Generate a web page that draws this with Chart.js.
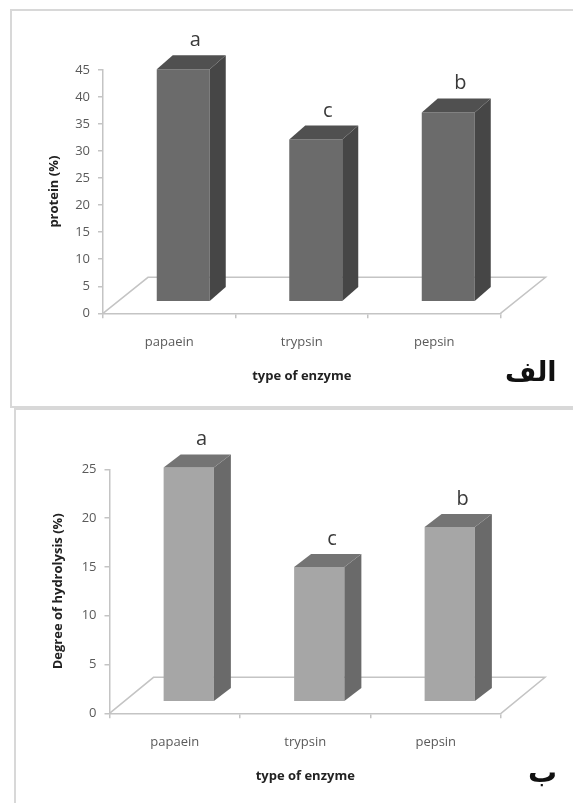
<!DOCTYPE html>
<html><head><meta charset="utf-8">
<script src="https://cdn.jsdelivr.net/npm/chart.js@4.4.1/dist/chart.umd.min.js"></script>
<style>
html,body{margin:0;padding:0;background:#fff;}
body{width:573px;height:803px;position:relative;overflow:hidden;}
.frame{position:absolute;box-sizing:border-box;}
#f1{left:10px;top:9px;width:600px;height:399px;border-left:2px solid #d8d8d8;border-top:2px solid #d8d8d8;border-bottom:2px solid #d8d8d8;}
#f2{left:14px;top:408px;width:600px;height:420px;border-left:2px solid #d8d8d8;border-top:2px solid #d8d8d8;}
canvas{position:absolute;left:0;}
#c1{top:0;} #c2{top:405px;}
.ar{position:absolute;font-family:"DejaVu Sans";font-weight:bold;font-size:27px;line-height:1;color:#111;direction:rtl;white-space:nowrap;}
</style></head><body>
<div class="frame" id="f1"></div>
<div class="frame" id="f2"></div>
<canvas id="c1" width="573" height="405"></canvas>
<canvas id="c2" width="573" height="398"></canvas>
<div class="ar" id="l1" style="left:505px;top:358px;">الف</div>
<div class="ar" id="l2" style="left:528px;top:758px;font-size:29px;">ب</div>
<script>
// ---- data ----
const categories = ['papaein', 'trypsin', 'pepsin'];
const proteinValues = [43, 30, 35];
const hydrolysisValues = [24, 13.8, 17.9];
const significanceLetters = ['a', 'c', 'b'];
const proteinAxisMax = 45;
const hydrolysisAxisMax = 25;
const tickStep = 5;
const xAxisTitle = 'type of enzyme';
const proteinAxisTitle = 'protein (%)';
const hydrolysisAxisTitle = 'Degree of hydrolysis (%)';

// ---- 3D-look plugin (uses the library's own elements & chart area) ----
const pseudo3d = {
  id: 'pseudo3d',
  beforeDatasetsDraw(chart, args, o) {
    const ctx = chart.ctx, a = chart.chartArea;
    ctx.save();
    ctx.strokeStyle = o.floorColor;
    ctx.lineWidth = 1.5;
    ctx.beginPath();
    ctx.moveTo(a.left, a.bottom);
    ctx.lineTo(a.left + o.floor[0], a.bottom + o.floor[1]);
    ctx.lineTo(a.right + o.floor[0], a.bottom + o.floor[1]);
    ctx.lineTo(a.right, a.bottom);
    ctx.stroke();
    ctx.restore();
    ctx.save();
    ctx.translate(o.shift[0], o.shift[1]);
  },
  afterDatasetsDraw(chart, args, o) {
    const ctx = chart.ctx;
    const meta = chart.getDatasetMeta(0);
    const [sx, sy] = o.side;
    meta.data.forEach((el) => {
      const p = el.getProps(['x', 'y', 'base', 'width'], true);
      const xl = p.x - p.width / 2, xr = p.x + p.width / 2;
      ctx.fillStyle = o.sideColor;
      ctx.beginPath();
      ctx.moveTo(xr, p.y); ctx.lineTo(xr + sx, p.y + sy);
      ctx.lineTo(xr + sx, p.base + sy); ctx.lineTo(xr, p.base);
      ctx.closePath(); ctx.fill();
      ctx.fillStyle = o.topColor;
      ctx.beginPath();
      ctx.moveTo(xl, p.y); ctx.lineTo(xl + sx, p.y + sy);
      ctx.lineTo(xr + sx, p.y + sy); ctx.lineTo(xr, p.y);
      ctx.closePath(); ctx.fill();
    });
    ctx.restore();
    ctx.save();
    ctx.fillStyle = '#3a3a3a';
    ctx.font = '20px "Open Sans"';
    ctx.textAlign = 'center';
    ctx.textBaseline = 'alphabetic';
    meta.data.forEach((el, i) => {
      const p = el.getProps(['x', 'y'], true);
      ctx.fillText(o.letters[i], p.x + o.shift[0] + sx * 0.75, p.y + o.shift[1] + sy - 9);
    });
    ctx.restore();
  }
};

function makeChart(id, values, yMax, yTitle, g) {
  const axisColor = '#c4c4c4';
  const tickFont = { family: '"Open Sans"', size: 13 };
  const titleFont = { family: '"Open Sans"', size: 13, weight: 'bold' };
  return new Chart(document.getElementById(id), {
    type: 'bar',
    data: {
      labels: categories,
      datasets: [{
        data: values,
        backgroundColor: g.front,
        borderWidth: 0,
        categoryPercentage: 1,
        barPercentage: g.barPct,
        clip: false
      }]
    },
    plugins: [pseudo3d],
    options: {
      responsive: false,
      animation: false,
      events: [],
      layout: { padding: { left: g.padL, right: g.padR, top: g.padT, bottom: g.padB } },
      plugins: {
        legend: { display: false },
        tooltip: { enabled: false },
        pseudo3d: {
          floor: g.floor, shift: g.shift, side: g.side,
          sideColor: g.sideC, topColor: g.topC, floorColor: axisColor,
          letters: significanceLetters
        }
      },
      scales: {
        x: {
          grid: { display: true, drawOnChartArea: false, drawTicks: true, tickLength: 5, color: axisColor, lineWidth: 1.5, offset: true },
          border: { display: true, color: axisColor, width: 1.5 },
          ticks: { color: '#5a5a5a', font: tickFont, padding: 16, maxRotation: 0 },
          title: { display: true, text: xAxisTitle, color: '#222', font: titleFont, padding: 0 },
          afterFit: (s) => { s.height = g.xH; }
        },
        y: {
          min: 0, max: yMax,
          ticks: { stepSize: tickStep, color: '#5a5a5a', font: tickFont, padding: 8 },
          grid: { drawOnChartArea: false, drawTicks: true, tickLength: 5, color: axisColor, lineWidth: 1.5 },
          border: { display: true, color: axisColor, width: 1.5 },
          title: { display: true, text: yTitle, color: '#222', font: titleFont, padding: { top: 3, bottom: 0 } },
          afterFit: (s) => { s.width = g.yW; }
        }
      }
    }
  });
}

makeChart('c1', proteinValues, proteinAxisMax, proteinAxisTitle, {
  padL: 43, padR: 72.5, padT: 70, padB: 21.2, yW: 60, xH: 70.5,
  barPct: 0.40, front: '#6b6b6b', sideC: '#464646', topC: '#505050',
  floor: [45, -36], shift: [14, -11.6], side: [16, -14]
});
makeChart('c2', hydrolysisValues, hydrolysisAxisMax, hydrolysisAxisTitle, {
  padL: 47.7, padR: 72, padT: 64.3, padB: 19.2, yW: 61.8, xH: 70.5,
  barPct: 0.385, front: '#a6a6a6', sideC: '#6a6a6a', topC: '#747474',
  floor: [44, -36], shift: [14, -11.6], side: [17, -13]
});
</script>
</body></html>
